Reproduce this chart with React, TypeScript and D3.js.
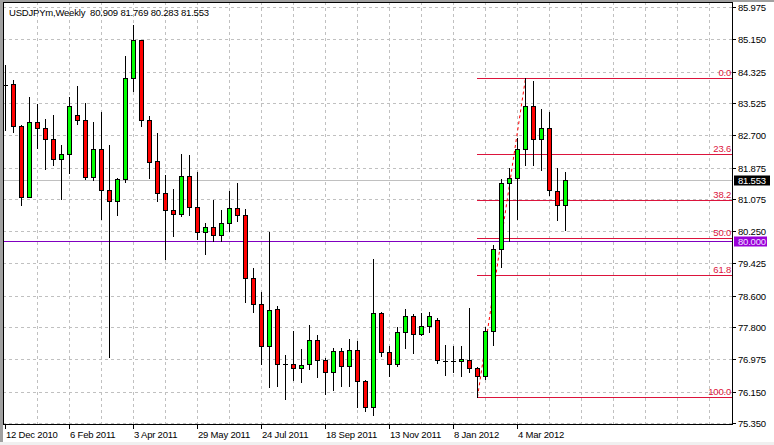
import React from "react";
import * as d3 from "d3";

const symbolTitle = "USDJPYm,Weekly";
const ohlcTitle = "80.909 81.769 80.283 81.553";

const opens = [
  83.983, 84.001, 82.928, 81.115, 83.030, 82.877, 82.596, 82.085, 82.213, 83.209,
  83.081, 81.625, 82.341, 81.293, 81.012, 81.574, 84.154, 85.125, 83.081, 82.034,
  81.217, 80.782, 80.696, 81.651, 80.859, 80.221, 80.348, 80.144, 80.451, 80.834,
  80.655, 79.046, 78.382, 77.324, 78.254, 76.865, 76.849, 76.747, 76.849, 77.462,
  76.951, 76.645, 77.181, 76.798, 77.207, 76.430, 75.751, 78.152, 77.156, 76.849,
  77.667, 78.075, 77.615, 77.820, 77.973, 76.934, 76.926, 76.926, 76.951, 76.747,
  76.558, 77.692, 79.786, 81.472, 81.600, 82.341, 83.439, 82.596, 82.877, 81.268,
  80.909,
];
const highs = [
  84.494, 84.111, 82.961, 83.676, 83.498, 83.114, 83.217, 82.450, 83.684, 83.957,
  83.515, 83.038, 83.293, 82.450, 81.608, 84.724, 85.515, 85.125, 83.183, 82.749,
  81.677, 81.319, 82.221, 82.195, 81.761, 80.458, 81.046, 80.782, 81.283, 81.480,
  80.816, 79.301, 78.688, 80.228, 78.338, 77.079, 77.700, 77.240, 77.853, 77.590,
  77.003, 77.258, 77.258, 77.488, 77.437, 76.456, 79.539, 78.177, 77.309, 77.794,
  78.254, 78.126, 78.152, 78.177, 78.024, 77.335, 77.309, 77.309, 78.280, 76.773,
  77.794, 79.896, 81.574, 81.855, 82.622, 84.154, 84.077, 83.362, 83.286, 81.855,
  81.769,
];
const lows = [
  82.834, 82.782, 80.918, 81.110, 82.374, 81.830, 81.947, 81.079, 81.743, 82.994,
  81.590, 81.556, 80.568, 77.043, 80.670, 81.513, 83.837, 82.936, 81.615, 81.028,
  79.539, 80.134, 80.637, 80.670, 80.057, 79.674, 79.991, 79.991, 80.246, 80.502,
  78.448, 78.193, 76.865, 76.277, 76.303, 75.955, 76.456, 76.405, 76.722, 76.517,
  76.098, 76.201, 76.303, 76.303, 75.766, 75.649, 75.562, 77.054, 76.558, 76.798,
  77.258, 77.130, 77.590, 77.667, 76.890, 76.584, 76.645, 76.543, 76.645, 76.010,
  76.481, 77.350, 79.342, 79.991, 80.568, 81.947, 81.947, 81.820, 81.181, 80.542,
  80.283,
];
const closes = [
  83.983, 82.936, 81.115, 83.030, 82.877, 82.596, 82.085, 82.213, 83.439, 83.081,
  81.625, 82.341, 81.301, 81.012, 81.574, 84.154, 85.125, 83.081, 82.024, 81.217,
  80.782, 80.696, 81.651, 80.859, 80.221, 80.356, 80.144, 80.451, 80.834, 80.655,
  79.046, 78.382, 77.324, 78.228, 76.865, 76.865, 76.747, 76.824, 77.462, 76.951,
  76.645, 77.181, 76.798, 77.207, 76.415, 75.751, 78.152, 77.156, 76.849, 77.667,
  78.075, 77.615, 77.820, 78.075, 76.951, 76.926, 76.926, 76.977, 76.747, 76.558,
  77.692, 79.786, 81.472, 81.600, 82.341, 83.439, 82.596, 82.877, 81.293, 80.910,
  81.553,
];

const dateLabels = [
  "12 Dec 2010", "6 Feb 2011", "3 Apr 2011", "29 May 2011", "24 Jul 2011",
  "18 Sep 2011", "13 Nov 2011", "8 Jan 2012", "4 Mar 2012",
];
const priceTicks = [
  "85.975", "85.150", "84.325", "83.525", "82.700", "81.875", "81.075",
  "80.250", "79.425", "78.600", "77.800", "76.975", "76.150", "75.350",
];
const fibLevels = [0, 23.6, 38.2, 50, 61.8, 100];
const fibLabels = ["0.0", "23.6", "38.2", "50.0", "61.8", "100.0"];
const fibHigh = 84.154;
const fibLow = 76.01;
const fibLowBar = 59;
const fibHighBar = 65;
const currentPrice = 81.553;
const currentLabel = "81.553";
const levelPrice = 80.0;
const levelLabel = "80.000";

const FONT = "'Liberation Sans', Arial, sans-serif";

export default function App() {
  const W = 774;
  const H = 445;
  const left = 3;
  const top = 2;
  const right = 732;
  const bottom = 424;
  const n = opens.length;
  const x = d3.scaleLinear().domain([0, n - 1]).range([5, 5 + 8 * (n - 1)]);
  const y = d3.scaleLinear().domain([75.35, 85.975]).range([423, 7]);
  const cy = (v: number) => Math.round(y(v)) + 0.5;

  const vGrid = d3.range(1, 30).map((k) => 5 + 32 * k).filter((v) => v < right);
  const textStyle = { fontFamily: FONT, fontSize: 9.5, letterSpacing: -0.2 } as const;

  const fibY = (lvl: number) => cy(fibHigh - ((fibHigh - fibLow) * lvl) / 100);

  return (
    <svg
      width={W}
      height={H}
      style={{ position: "fixed", left: 0, top: 0, background: "#fff" }}
    >
      <defs>
        <clipPath id="plotclip">
          <rect x={left + 1} y={top + 1} width={right - left - 1} height={bottom - top - 1} />
        </clipPath>
      </defs>
      <rect x={0} y={0} width={W} height={H} fill="#fff" />
      <rect x={0} y={0} width={W} height={2} fill="#a0a0a0" />
      <rect x={0} y={0} width={3} height={H} fill="#a0a0a0" />
      <rect x={0} y={442} width={W} height={3} fill="#f0f0f0" />

      {/* grid */}
      <g stroke="#c0c0c0" strokeDasharray="3,3" shapeRendering="crispEdges">
        {priceTicks.map((t, i) => (
          <line key={"h" + i} x1={left} x2={right} y1={cy(+t)} y2={cy(+t)} />
        ))}
        {vGrid.map((v, i) => (
          <line key={"v" + i} x1={v + 0.5} x2={v + 0.5} y1={top} y2={bottom} />
        ))}
      </g>

      <g clipPath="url(#plotclip)">
        {/* current price line */}
        <line x1={left} x2={right} y1={cy(currentPrice)} y2={cy(currentPrice)} stroke="#c0c0c0" />
        {/* horizontal level */}
        <line x1={left} x2={right} y1={cy(levelPrice)} y2={cy(levelPrice)} stroke="#8000c0" />
        {/* fibonacci */}
        {fibLevels.map((l, i) => (
          <line
            key={"f" + i}
            x1={x(fibLowBar)}
            x2={right}
            y1={fibY(l)}
            y2={fibY(l)}
            stroke="#dc143c"
          />
        ))}
        <line
          x1={x(fibLowBar) + 0.5}
          y1={y(fibLow)}
          x2={x(fibHighBar) + 0.5}
          y2={y(fibHigh)}
          stroke="#ff0000"
          strokeDasharray="3,3"
        />
        {fibLabels.map((t, i) => (
          <text
            key={"fl" + i}
            x={right - 1}
            y={fibY(fibLevels[i]) - 3}
            textAnchor="end"
            fill="#dc143c"
            style={textStyle}
          >
            {t}
          </text>
        ))}

        {/* candles */}
        {opens.map((o, i) => {
          const c = closes[i];
          const cx = x(i) + 0.5;
          const yH = cy(highs[i]);
          const yL = cy(lows[i]);
          const yT = cy(Math.max(o, c));
          const yB = cy(Math.min(o, c));
          const bull = c > o;
          return (
            <g key={"c" + i} shapeRendering="crispEdges">
              <line x1={cx} x2={cx} y1={yH - 0.5} y2={yL + 0.5} stroke="#000" />
              {yB - yT < 1 ? (
                <line x1={cx - 2.5} x2={cx + 2.5} y1={yT} y2={yT} stroke="#000" />
              ) : (
                <rect
                  x={cx - 2}
                  y={yT}
                  width={4}
                  height={yB - yT}
                  fill={bull ? "#00ff00" : "#ff0000"}
                  stroke="#000"
                />
              )}
            </g>
          );
        })}
      </g>

      {/* frame */}
      <g stroke="#000" shapeRendering="crispEdges">
        <line x1={left + 0.5} x2={left + 0.5} y1={top} y2={bottom + 1} />
        <line x1={left} x2={right + 1} y1={top + 0.5} y2={top + 0.5} />
        <line x1={right + 0.5} x2={right + 0.5} y1={top} y2={bottom + 1} />
        <line x1={left} x2={right + 1} y1={bottom + 0.5} y2={bottom + 0.5} />
      </g>

      {/* title */}
      <text x={9} y={16} fill="#000" style={textStyle} xmlSpace="preserve">
        {symbolTitle + "  " + ohlcTitle}
      </text>

      {/* price axis */}
      {priceTicks.map((t, i) => (
        <g key={"pt" + i}>
          <line x1={right + 1} x2={right + 4} y1={cy(+t)} y2={cy(+t)} stroke="#000" shapeRendering="crispEdges" />
          <text x={738} y={cy(+t) + 3} fill="#000" style={textStyle}>
            {t}
          </text>
        </g>
      ))}
      <rect x={734} y={cy(currentPrice) - 5} width={36} height={10} fill="#000" />
      <text x={738} y={cy(currentPrice) + 3.5} fill="#fff" style={textStyle}>
        {currentLabel}
      </text>
      <rect x={734} y={cy(levelPrice) - 5} width={33} height={10} fill="#9a00d8" />
      <text x={738} y={cy(levelPrice) + 3.5} fill="#f0e0ff" style={textStyle}>
        {levelLabel}
      </text>

      {/* time axis */}
      {dateLabels.map((d, k) => {
        const tx = Math.round(x(k * 8)) + 0.5;
        return (
          <g key={"d" + k}>
            <line x1={tx} x2={tx} y1={bottom} y2={bottom + 5} stroke="#000" shapeRendering="crispEdges" />
            <text x={tx + 0.5} y={437.5} fill="#000" style={textStyle}>
              {d}
            </text>
          </g>
        );
      })}
    </svg>
  );
}
